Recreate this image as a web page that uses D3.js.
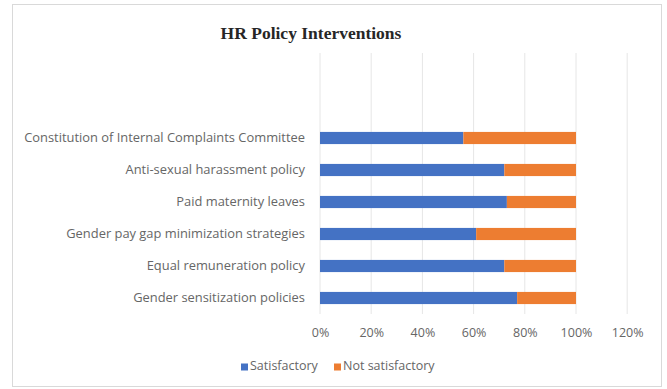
<!DOCTYPE html>
<html>
<head>
<meta charset="utf-8">
<script src="https://cdn.jsdelivr.net/npm/d3@7"></script>
<style>
  html, body { margin: 0; padding: 0; background: #fff; }
  svg { display: block; }
</style>
</head>
<body>
<svg id="chart" width="667" height="389"></svg>
<script>
// Categories, top to bottom
const categories = [
  "Constitution of Internal Complaints Committee",
  "Anti-sexual harassment policy",
  "Paid maternity leaves",
  "Gender pay gap minimization strategies",
  "Equal remuneration policy",
  "Gender sensitization policies"
];
// Share of respondents (%)
const satisfactory    = [56, 72, 73, 61, 72, 77];
const notSatisfactory = [44, 28, 27, 39, 28, 23];
const seriesNames = ["Satisfactory", "Not satisfactory"];
const xTicks = [0, 20, 40, 60, 80, 100, 120];

const colors = ["#4472C4", "#ED7D31"];
const svg = d3.select("#chart");

// Chart frame
svg.append("rect")
  .attr("x", 12.5).attr("y", 4.5)
  .attr("width", 649).attr("height", 382)
  .attr("fill", "#fff")
  .attr("stroke", "#d9d9d9");

// Title
svg.append("text")
  .attr("x", 311).attr("y", 35)
  .attr("text-anchor", "middle")
  .attr("dominant-baseline", "middle")
  .style("font-family", "'Liberation Serif', 'Times New Roman', serif")
  .style("font-weight", "bold")
  .style("font-size", "17.5px")
  .attr("fill", "#262626")
  .text("HR Policy Interventions");

const plotTop = 53, plotBottom = 314;
const x = d3.scaleLinear().domain([0, 120]).range([320, 627.2]);
const y = d3.scaleBand().domain(categories).range([122, plotBottom]).paddingInner(0.62).paddingOuter(0.31);

// Vertical gridlines
svg.append("g").selectAll("line")
  .data(xTicks)
  .join("line")
  .attr("x1", d => x(d)).attr("x2", d => x(d))
  .attr("y1", plotTop).attr("y2", plotBottom)
  .attr("stroke", "#e6e6e6")
  .attr("stroke-width", 1);

// Stacked bars
const stackData = categories.map((c, i) => ({ cat: c, Satisfactory: satisfactory[i], "Not satisfactory": notSatisfactory[i] }));
const stacked = d3.stack().keys(seriesNames)(stackData);

svg.append("g").selectAll("g")
  .data(stacked)
  .join("g")
  .attr("fill", (d, i) => colors[i])
  .selectAll("rect")
  .data(d => d)
  .join("rect")
  .attr("x", d => x(d[0]))
  .attr("width", d => x(d[1]) - x(d[0]))
  .attr("y", d => y(d.data.cat))
  .attr("height", y.bandwidth());

const labelFont = "'Open Sans', 'Noto Sans', sans-serif";
const labelColor = "#666";

// Category axis (labels only)
const yAxis = svg.append("g")
  .attr("transform", "translate(320,0)")
  .call(d3.axisLeft(y).tickSize(0).tickPadding(15));
yAxis.select(".domain").remove();
yAxis.selectAll("text")
  .style("font-family", labelFont)
  .style("font-size", "12.9px")
  .attr("fill", labelColor);

// Value axis (labels only)
const xAxis = svg.append("g")
  .attr("transform", `translate(0,${plotBottom})`)
  .call(d3.axisBottom(x).tickValues(xTicks).tickFormat(d => d + "%").tickSize(0).tickPadding(14));
xAxis.select(".domain").remove();
xAxis.selectAll("text")
  .style("font-family", labelFont)
  .style("font-size", "12.5px")
  .attr("fill", labelColor);

// Legend
const legendPos = [241, 334];
const legend = svg.append("g").selectAll("g")
  .data(seriesNames)
  .join("g")
  .attr("transform", (d, i) => `translate(${legendPos[i]},367)`);
legend.append("rect")
  .attr("x", 0).attr("y", -3.5)
  .attr("width", 7).attr("height", 7)
  .attr("fill", (d, i) => colors[i]);
legend.append("text")
  .attr("x", 9).attr("y", 0)
  .attr("dominant-baseline", "middle")
  .style("font-family", labelFont)
  .style("font-size", "12.5px")
  .attr("fill", labelColor)
  .text(d => d);
</script>
</body>
</html>
